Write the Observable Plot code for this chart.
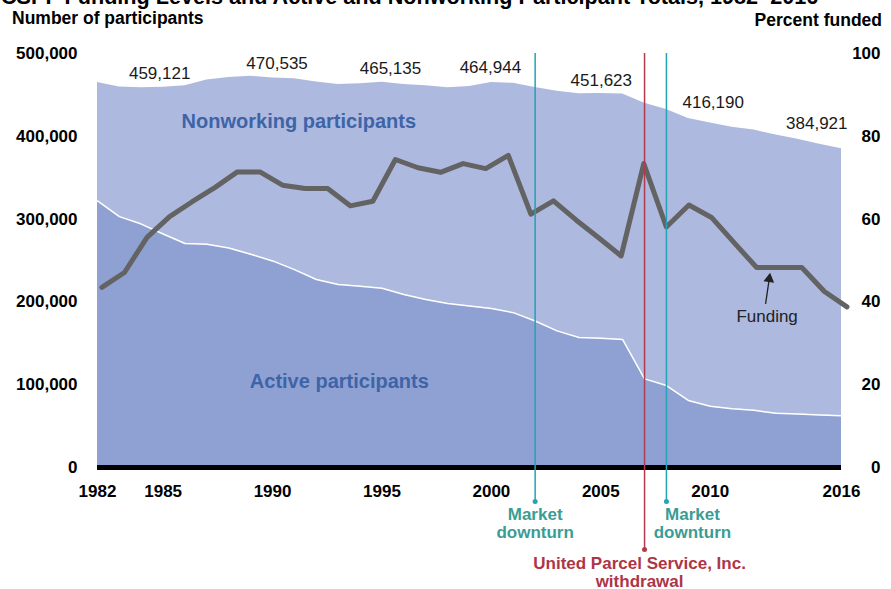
<!DOCTYPE html>
<html>
<head>
<meta charset="utf-8">
<script src="https://cdn.jsdelivr.net/npm/d3@7"></script>
<script src="https://cdn.jsdelivr.net/npm/@observablehq/plot@0.6"></script>
<style>
html, body { margin: 0; padding: 0; background: #fff; overflow: hidden; }
#wrap { position: relative; width: 891px; height: 589px; overflow: hidden;
        font-family: "Liberation Sans", Arial, Helvetica, sans-serif; }
#chart { position: absolute; left: 0; top: 0; }
.title { position: absolute; left: 1px; top: -13px; font-size: 21.6px; font-weight: bold;
         line-height: 20px; white-space: nowrap; color: #000; }
.ylab { position: absolute; font-size: 17.5px; font-weight: bold; line-height: 20px;
        white-space: nowrap; color: #000; }
</style>
</head>
<body>
<div id="wrap">
  <div id="chart"></div>
  <div class="title">CSPF Funding Levels and Active and Nonworking Participant Totals, 1982–2016</div>
  <div class="ylab" style="left:12px; top:8px;">Number of participants</div>
  <div class="ylab" style="right:9px; top:10px;">Percent funded</div>
</div>
<script>
// ---------- Data ----------
const years = [1982, 1983, 1984, 1985, 1986, 1987, 1988, 1989, 1990, 1991, 1992, 1993,
  1994, 1995, 1996, 1997, 1998, 1999, 2000, 2001, 2002, 2003, 2004, 2005, 2006, 2007,
  2008, 2009, 2010, 2011, 2012, 2013, 2014, 2015, 2016];

const activeParticipants = [322000, 303000, 294000, 282000, 270500, 269500, 265000, 257500,
  249500, 239000, 227000, 221000, 219000, 216500, 209000, 203000, 198000, 195000, 192000,
  187000, 177000, 165000, 157000, 156000, 154500, 107000, 99000, 81000, 74000, 71000,
  69000, 65500, 64500, 63500, 62500];

const nonworkingParticipants = [143000, 156500, 164500, 177121, 190500, 198500, 206000,
  215000, 221035, 230500, 238500, 241500, 244500, 248635, 253500, 258000, 260500, 265000,
  272944, 277000, 282000, 289500, 294500, 295623, 296500, 333000, 333500, 340500, 342190,
  340000, 338500, 336000, 332000, 327000, 322421];

// Funding line (percent funded), 34 points on its own (secondary) category axis
const fundingPercent = [43.5, 47.1, 55.6, 60.6, 64.2, 67.6, 71.4, 71.4, 68.2, 67.4, 67.4,
  63.2, 64.3, 74.4, 72.4, 71.3, 73.4, 72.2, 75.4, 61.2, 64.4, 59.8, 55.5, 51.1, 73.4,
  58.1, 63.4, 60.4, 54.3, 48.3, 48.3, 48.3, 42.5, 38.8];

const labeledYears = [1985, 1990, 1995, 2000, 2005, 2010, 2016];
const labeledTotals = [459121, 470535, 465135, 464944, 451623, 416190, 384921];

const xTicks = [1982, 1985, 1990, 1995, 2000, 2005, 2010, 2016];
const leftTicks = [0, 100000, 200000, 300000, 400000, 500000];
const rightTicks = [0, 20, 40, 60, 80, 100];

const marketYears = [2002, 2008];
const marketLabel = "Market\ndownturn";
const upsYear = [2007];
const upsLabel = "United Parcel Service, Inc.\nwithdrawal";

// ---------- Derived tables ----------
const PER_PCT = 5000;                // 100 % funded lines up with 500,000 participants
const fundingAxisStart = 1982.2;     // secondary category axis spans the same width
const fundingAxisStep = 34.05 / 33;
const rows = years.flatMap((y, i) => [
  {year: y, series: "Active participants", value: activeParticipants[i]},
  {year: y, series: "Nonworking participants", value: nonworkingParticipants[i]}
]);
const fmt = d3.format(",");

const FONT = '"Liberation Sans", Arial, Helvetica, sans-serif';
const TEAL_LINE = "#22a3b6", TEAL_TEXT = "#3a9d95";
const RED_LINE = "#b23c4d", RED_TEXT = "#ad3548";

function totalLabel(k, opts) {
  return Plot.text([k], {
    x: i => labeledYears[i], y: i => labeledTotals[i], text: i => fmt(labeledTotals[i]),
    fontSize: 17, fontWeight: "normal", fill: "#1a1a1a", ...opts
  });
}

const chart = Plot.plot({
  width: 891,
  height: 589,
  marginLeft: 97,
  marginRight: 50,
  marginTop: 53,
  marginBottom: 122,
  x: {domain: [1982, 2016]},
  y: {domain: [0, 500000]},
  color: {domain: ["Active participants", "Nonworking participants"], range: ["#8fa1d2", "#adb9df"]},
  style: {fontFamily: FONT, fontSize: "17px", color: "#000", background: "transparent", overflow: "visible"},
  marks: [
    Plot.areaY(rows, {x: "year", y: "value", fill: "series",
      order: ["Active participants", "Nonworking participants"]}),
    Plot.line(years, {x: d => d, y: (d, i) => activeParticipants[i], stroke: "#ffffff", strokeWidth: 1.5}),
    Plot.ruleY([0], {stroke: "#000", strokeWidth: 5}),

    // series labels
    Plot.text(["Nonworking participants"], {x: () => 1991.2, y: () => 418000, text: d => d,
      fill: "#3e64a8", fontSize: 20, fontWeight: "bold"}),
    Plot.text(["Active participants"], {x: () => 1993.05, y: () => 103600, text: d => d,
      fill: "#3e64a8", fontSize: 20, fontWeight: "bold"}),

    // total labels
    totalLabel(0, {dx: -3.5, dy: -14}),
    totalLabel(1, {dx: 4.5, dy: -14.5}),
    totalLabel(2, {dx: 8.5, dy: -14}),
    totalLabel(3, {dx: -1, dy: -15}),
    totalLabel(4, {dx: 0.5, dy: -13}),
    totalLabel(5, {dx: 3, dy: -20}),
    totalLabel(6, {dx: 6, dy: -25, textAnchor: "end"}),

    // funding line
    Plot.line(fundingPercent, {x: (d, i) => fundingAxisStart + i * fundingAxisStep, y: d => d * PER_PCT,
      stroke: "#636363", strokeWidth: 5}),

    // funding annotation
    Plot.link([0], {x1: () => 2012.53, y1: () => 197600, x2: () => 2012.7, y2: () => 228000,
      stroke: "#222", strokeWidth: 1.3}),
    Plot.dot([0], {x: () => 2012.72, y: () => 234900, dy: 6, dx: -0.5, symbol: "triangle", r: 4,
      rotate: 8, fill: "#222", stroke: "none"}),
    Plot.text(["Funding"], {x: () => 2012.6, y: () => 181900, text: d => d, fontSize: 17,
      fontWeight: "normal", fill: "#222"}),

    // events
    Plot.ruleX(marketYears, {x: d => d, y1: 500000, y2: 0, insetBottom: -34, stroke: TEAL_LINE, strokeWidth: 1.5}),
    Plot.ruleX(upsYear, {x: d => d, y1: 500000, y2: 0, insetBottom: -82, stroke: RED_LINE, strokeWidth: 1.5}),
    Plot.dot(marketYears, {x: d => d, y: () => 0, dy: 34, r: 2.5, fill: TEAL_LINE, stroke: "none"}),
    Plot.dot(upsYear, {x: d => d, y: () => 0, dy: 82, r: 2.5, fill: RED_LINE, stroke: "none"}),
    Plot.text([marketYears[0]], {x: d => d, y: () => 0, dy: 55.5, text: () => marketLabel,
      lineHeight: 1.05, fontSize: 17, fontWeight: "bold", fill: TEAL_TEXT}),
    Plot.text([marketYears[1]], {x: d => d, y: () => 0, dx: 26, dy: 55.5, text: () => marketLabel,
      lineHeight: 1.05, fontSize: 17, fontWeight: "bold", fill: TEAL_TEXT}),
    Plot.text(upsYear, {x: d => d, y: () => 0, dx: -5, dy: 105, text: () => upsLabel,
      lineHeight: 1.05, fontSize: 17, fontWeight: "bold", fill: RED_TEXT}),

    // axes
    Plot.axisX({ticks: xTicks, tickFormat: d => String(d), tickSize: 0, tickPadding: 17,
      fontSize: 17, fontWeight: "bold", label: null}),
    Plot.axisY({anchor: "left", ticks: leftTicks, tickFormat: fmt, tickSize: 0, tickPadding: 20,
      fontSize: 17, fontWeight: "bold", label: null}),
    Plot.axisY({anchor: "right", ticks: rightTicks.map(p => p * PER_PCT), tickFormat: d => String(d / PER_PCT),
      tickSize: 0, tickPadding: 39, textAnchor: "end", fontSize: 17, fontWeight: "bold", label: null})
  ]
});

document.getElementById("chart").appendChild(chart);
</script>
</body>
</html>
